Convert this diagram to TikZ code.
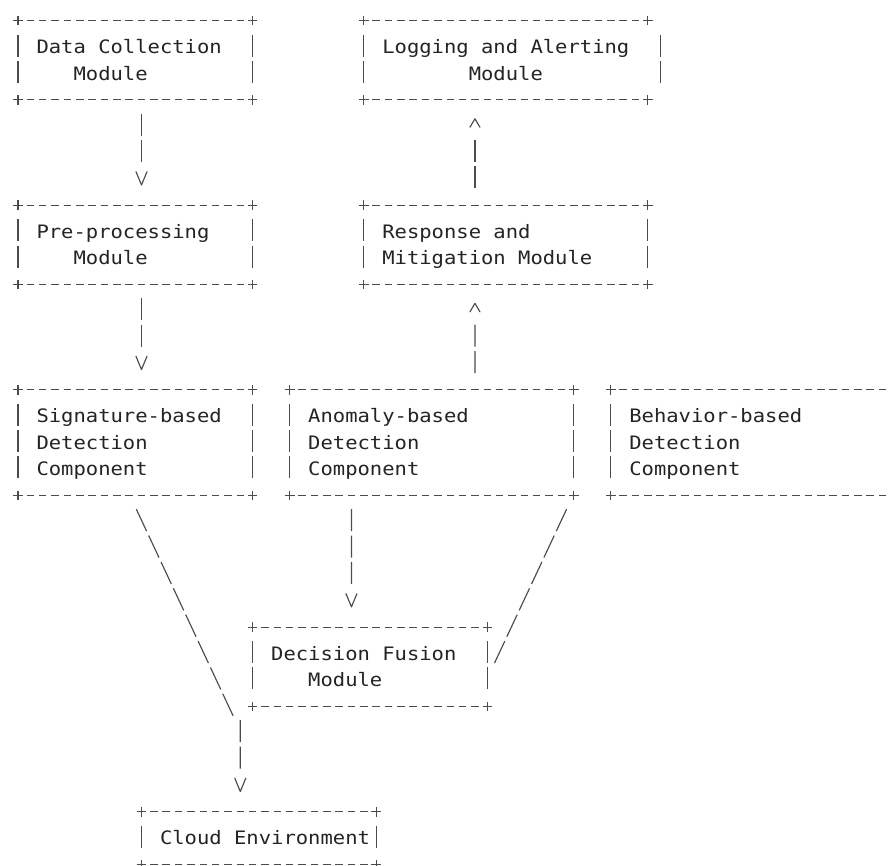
\documentclass[tikz,border=0pt]{standalone}
\usepackage{fontspec}
\newfontfamily\boxfont[FakeStretch=1.1089]{DejaVu Sans Mono}
\usetikzlibrary{arrows.meta}
\newlength\cw \setlength\cw{12.35pt}
\newcommand{\lineind}[1][0]{\hspace*{18.525pt}\hspace*{#1\cw}\rule[-6.5pt]{0pt}{26.3pt}}
\newcommand{\ws}{\hspace*{\cw}}
\newcommand{\gx}[1]{18+12.35*(#1)}
\newcommand{\gy}[1]{20.7+26.37*(#1)}
\definecolor{txt}{gray}{0.14}
\definecolor{ln}{gray}{0.30}
\newcommand{\plusmark}[1]{\draw[pl] ([xshift=-4.8pt]#1) -- ([xshift=4.8pt]#1) ([yshift=-4.8pt]#1) -- ([yshift=4.8pt]#1);}
\newcommand{\asciiframe}[3]{%
  \draw[hd] ([xshift=8.6pt]#1.north west) -- ([xshift=-8.6pt]#1.north east);
  \draw[hd] ([xshift=8.6pt]#1.south west) -- ([xshift=-8.6pt]#1.south east);
  \draw[vd] ([yshift=-13.87pt]#1.north west) -- ([yshift=16.87pt]#1.south west);
  \plusmark{#1.north west}\plusmark{#1.south west}
  \ifnum#3=1
    \draw[vd] ([xshift=#2,yshift=-13.87pt]#1.north east) -- ([xshift=#2,yshift=16.87pt]#1.south east);
    \plusmark{#1.north east}\plusmark{#1.south east}
  \fi}
\begin{document}
\begin{tikzpicture}[x=1pt,y=-1pt,
  bxa/.style={rectangle, inner sep=0pt, outer sep=0pt, minimum width=234.65pt,
    text width=234.65pt, align=left,
    font=\boxfont\fontsize{18.5pt}{26.37pt}\selectfont, text=txt},
  bxb/.style={bxa, minimum width=284.05pt, text width=284.05pt},
  nrows/.style={minimum height=#1*26.37pt},
  hd/.style={draw=ln, line width=1.15pt, dash pattern=on 7.5pt off 4.85pt},
  vd/.style={draw=ln, line width=1.15pt, dash pattern=on 22pt off 4.37pt},
  pl/.style={draw=ln, line width=1.15pt},
  vc/.style={draw=ln, line width=1.15pt},
  vtip/.style={-{Straight Barb[round,length=13.3pt,width=11pt]}},
  ctip/.style={-{Straight Barb[round,length=8.5pt,width=10pt]}},
  bars2/.style={dash pattern=on 22pt off 4.37pt on 22pt off 600pt},
  bars3/.style={dash pattern=on 22pt off 4.37pt on 22pt off 4.37pt on 22pt off 600pt},
  dg/.style={draw=ln, line width=1.15pt, dash pattern=on 24.3pt off 4.83pt, shorten <=15.24pt}
]
\useasboundingbox (0,0) rectangle (889,866);
\fill[white] (0,0) rectangle (889,866);

% boxes
\node[bxa, nrows=3] (dc) at ({\gx{9.5}},{\gy{1.5}}) {\lineind Data\ws Collection\\\lineind[3]Module};
\node[bxb, nrows=3] (lg) at ({\gx{39.5}},{\gy{1.5}}) {\lineind Logging\ws and\ws Alerting\\\lineind[7]Module};
\node[bxa, nrows=3] (pp) at ({\gx{9.5}},{\gy{8.5}}) {\lineind Pre-processing\\\lineind[3]Module};
\node[bxb, nrows=3] (rm) at ({\gx{39.5}},{\gy{8.5}}) {\lineind Response\ws and\\\lineind Mitigation\ws Module};
\node[bxa, nrows=4] (sg) at ({\gx{9.5}},{\gy{16}}) {\lineind Signature-based\\\lineind Detection\\\lineind Component};
\node[bxb, nrows=4] (an) at ({\gx{33.5}},{\gy{16}}) {\lineind Anomaly-based\\\lineind Detection\\\lineind Component};
\node[bxb, nrows=4] (bh) at ({\gx{59.5}},{\gy{16}}) {\lineind Behavior-based\\\lineind Detection\\\lineind Component};
\node[bxa, nrows=3] (df) at ({\gx{28.5}},{\gy{24.5}}) {\lineind Decision\ws Fusion\\\lineind[3]Module};
\node[bxa, nrows=2] (ce) at ({\gx{19.5}},{\gy{31}}) {\lineind Cloud\ws Environment};

\asciiframe{dc}{0pt}{1}
\asciiframe{lg}{12.35pt}{1}
\asciiframe{pp}{0pt}{1}
\asciiframe{rm}{0pt}{1}
\asciiframe{sg}{0pt}{1}
\asciiframe{an}{0pt}{1}
\asciiframe{bh}{0pt}{0}
\asciiframe{df}{0pt}{1}
\asciiframe{ce}{0pt}{1}

% connectors
\draw[vc, bars2, vtip, shorten <=13.87pt, shorten >=19.72pt] ([xshift=6.175pt]dc.south) -- ([xshift=6.175pt]pp.north);
\draw[vc, bars2, vtip, shorten <=13.87pt, shorten >=19.72pt] ([xshift=6.175pt]pp.south) -- ([xshift=6.175pt]sg.north);
\draw[vc, bars2, ctip, shorten <=16.87pt, shorten >=18.37pt] ([xshift=-30.875pt]rm.north) -- ([xshift=-30.875pt]lg.south);
\draw[vc, bars2, ctip, shorten <=16.87pt, shorten >=18.37pt] ([xshift=43.225pt]an.north) -- ([xshift=-30.875pt]rm.south);
\draw[vc, bars3, vtip, shorten <=13.87pt, shorten >=19.72pt] ([xshift=-80.275pt]an.south) -- ([xshift=-18.525pt]df.north);
\coordinate (jn) at ({\gx{18}},{\gy{26}+9.5});
\draw[dg] ([xshift=-5.475pt]sg.south) -- ([xshift=-7.2pt]jn);
\draw[vc, bars2, vtip, shorten <=4.37pt, shorten >=19.72pt] (jn) -- ([xshift=-18.525pt]ce.north);
\draw[dg] ([xshift=-0.7pt]an.south east) -- ([xshift=7.2pt,yshift=3.69pt]df.east);
\end{tikzpicture}
\end{document}
